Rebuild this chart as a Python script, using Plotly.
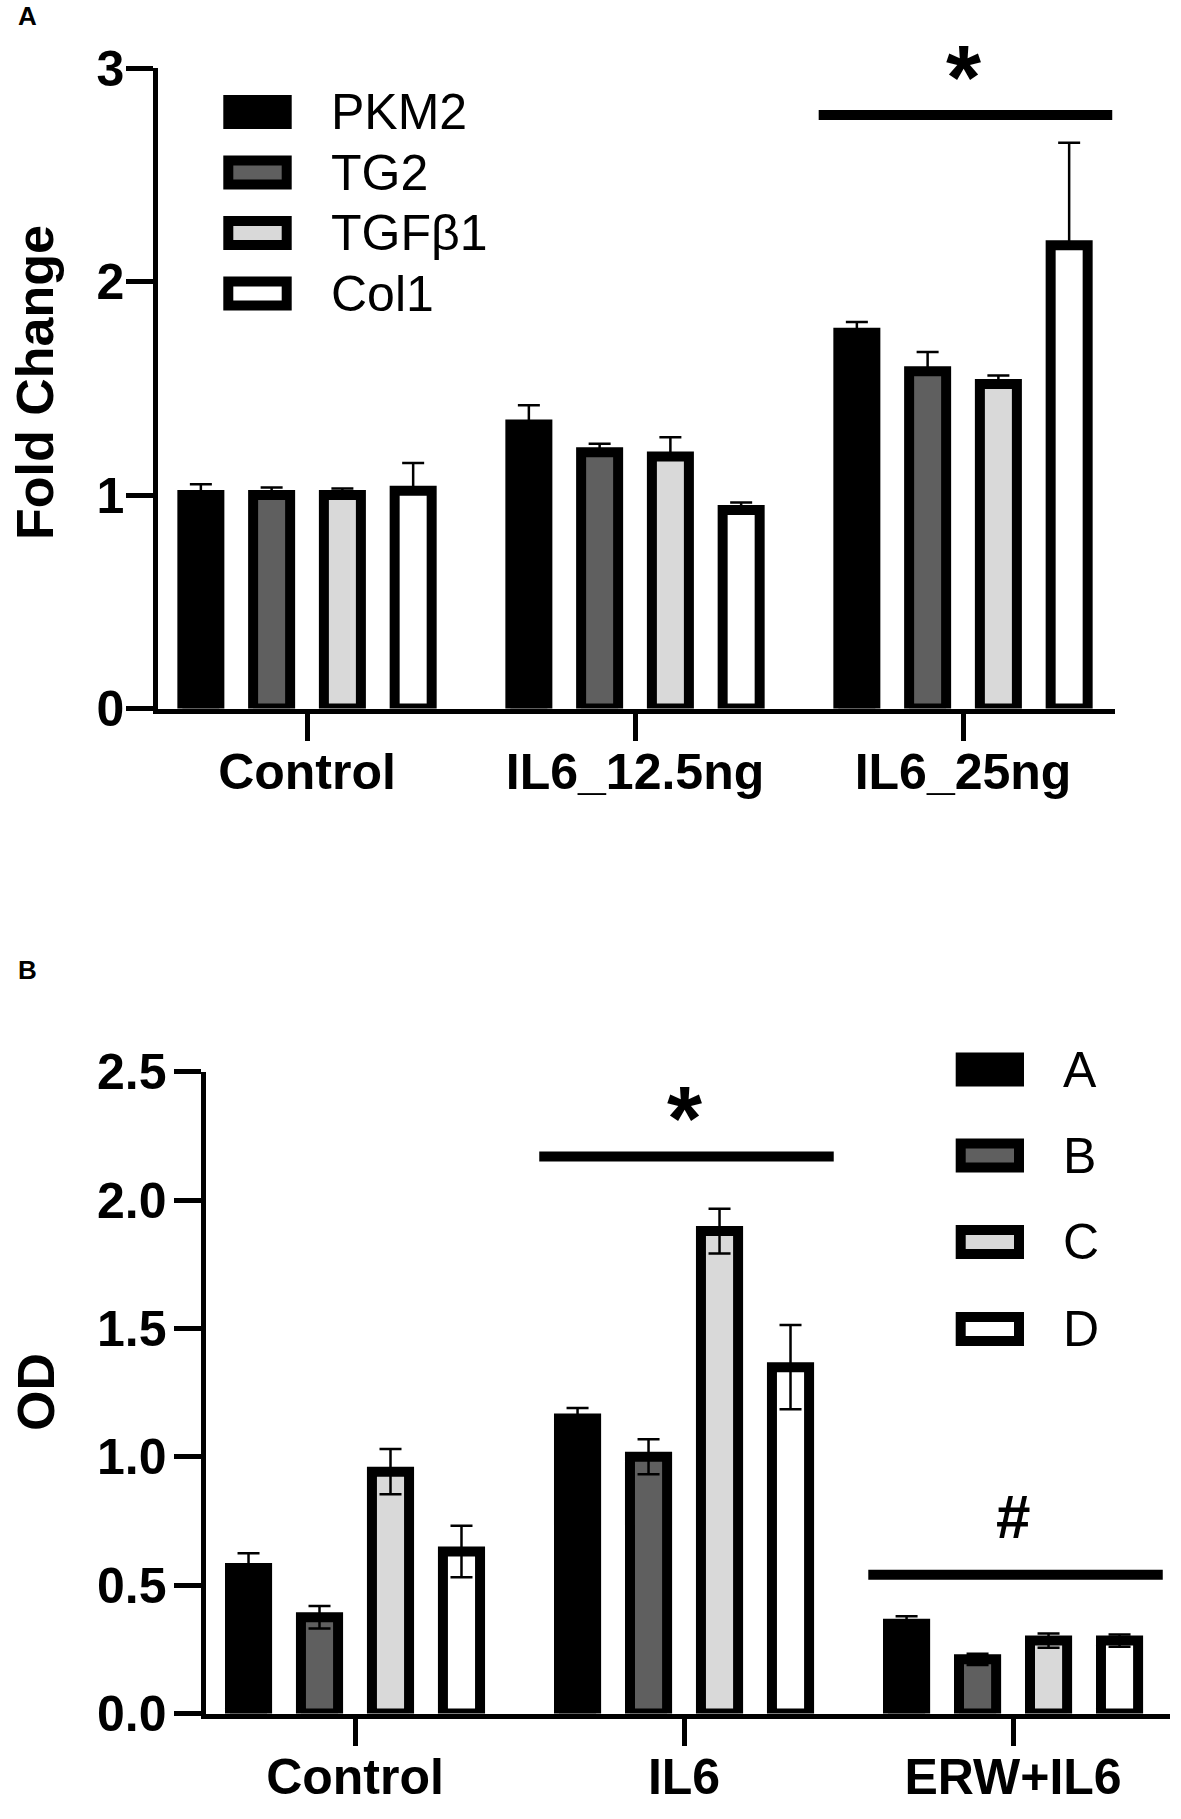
import plotly.graph_objects as go

# ---- data: panel A (fold change) ----
groups_a = ["Control", "IL6_12.5ng", "IL6_25ng"]
genes_a = ["PKM2", "TG2", "TGFβ1", "Col1"]
pkm2 = [1.00, 1.33, 1.76]
pkm2_err = [0.05, 0.09, 0.05]
tg2 = [1.00, 1.20, 1.58]
tg2_err = [0.035, 0.04, 0.09]
tgfb1 = [1.00, 1.18, 1.52]
tgfb1_err = [0.03, 0.09, 0.04]
col1 = [1.02, 0.93, 2.17]
col1_err = [0.13, 0.035, 0.48]

# ---- data: panel B (OD) ----
groups_b = ["Control", "IL6", "ERW+IL6"]
series_b = ["A", "B", "C", "D"]
od_a = [0.567, 1.149, 0.350]
od_a_err = [0.057, 0.041, 0.029]
od_b = [0.375, 1.000, 0.211]
od_b_err = [0.044, 0.068, 0.022]
od_c = [0.942, 1.879, 0.284]
od_c_err = [0.088, 0.087, 0.028]
od_d = [0.631, 1.349, 0.284]
od_d_err = [0.100, 0.164, 0.024]

# significance marks: (group, level, symbol)
sig_a = [("IL6_25ng", 2.78, "*")]
sig_b = [("IL6", 2.17, "*"), ("ERW+IL6", 0.54, "#")]

fills = ["#000000", "#5f5f5f", "#d9d9d9", "#ffffff"]

W, H = 1181, 1819
FONT = "Liberation Sans, Arial, sans-serif"


def px_x(p):
    return p / W


def px_y(p):
    return 1 - p / H


fig = go.Figure()

vals_a = [pkm2, tg2, tgfb1, col1]
errs_a = [pkm2_err, tg2_err, tgfb1_err, col1_err]
for name, v, e, c in zip(genes_a, vals_a, errs_a, fills):
    fig.add_trace(go.Bar(
        x=groups_a, y=v, name=name, xaxis="x", yaxis="y",
        marker=dict(color=c, line=dict(color="black", width=10)),
        error_y=dict(type="data", array=e, arrayminus=[0] * len(e), symmetric=False,
                     color="black", thickness=2.5, width=11),
        showlegend=False, hoverinfo="skip"))

vals_b = [od_a, od_b, od_c, od_d]
errs_b = [od_a_err, od_b_err, od_c_err, od_d_err]
for name, v, e, c in zip(series_b, vals_b, errs_b, fills):
    fig.add_trace(go.Bar(
        x=groups_b, y=v, name=name, xaxis="x2", yaxis="y2",
        marker=dict(color=c, line=dict(color="black", width=10)),
        error_y=dict(type="data", array=e, color="black", thickness=2.5, width=11),
        showlegend=False, hoverinfo="skip"))

tickfont = dict(family=FONT, size=50, color="black", weight="bold")
axis_common = dict(showline=True, linecolor="black", linewidth=5, ticks="outside",
                   tickwidth=5, tickcolor="black", ticklen=27, showgrid=False,
                   zeroline=False, tickfont=tickfont, fixedrange=True, automargin=False)

fig.update_layout(
    width=W, height=H, margin=dict(l=0, r=0, t=0, b=0, autoexpand=False),
    paper_bgcolor="white", plot_bgcolor="white",
    bargap=0.137, bargroupgap=0.477, barmode="group",
    xaxis=dict(domain=[px_x(158.2), px_x(1115)], range=[-0.4537, 2.4634],
               anchor="y", ticklabelstandoff=-12, **axis_common),
    yaxis=dict(domain=[px_y(708.5), px_y(68)], range=[0, 3], tickvals=[0, 1, 2, 3],
               anchor="x", ticklabelstandoff=-8, **axis_common),
    xaxis2=dict(domain=[px_x(205.5), px_x(1170)], range=[-0.4544, 2.477],
                anchor="y2", ticklabelstandoff=-12, **axis_common),
    yaxis2=dict(domain=[px_y(1713.5), px_y(1071.7)], range=[0, 2.5], dtick=0.5,
                tickformat=".1f", anchor="x2", ticklabelstandoff=-3, **axis_common),
)

# significance bars
for sigs, groups, xr, yr in [(sig_a, groups_a, "x", "y"), (sig_b, groups_b, "x2", "y2")]:
    for grp, level, sym in sigs:
        i = groups.index(grp)
        fig.add_shape(type="line", xref=xr, yref=yr, x0=i - 0.44, x1=i + 0.455,
                      y0=level, y1=level, line=dict(color="black", width=10))
        shift = 37 if sym == "*" else 58
        size = 90 if sym == "*" else 62
        fig.add_annotation(x=i, y=level, xref=xr, yref=yr, text=sym, showarrow=False,
                           yanchor="middle", yshift=shift,
                           font=dict(family=FONT, size=size, color="black", weight="bold"))

# legends drawn as boxes + labels
def draw_legend(names, x0, x1, centers, text_x):
    for name, c, yc in zip(names, fills, centers):
        fig.add_shape(type="rect", xref="paper", yref="paper",
                      x0=px_x(x0), x1=px_x(x1), y0=px_y(yc + 12), y1=px_y(yc - 12),
                      fillcolor=c, line=dict(color="black", width=10))
        fig.add_annotation(x=px_x(text_x), y=px_y(yc), xref="paper", yref="paper",
                           text=name, showarrow=False, xanchor="left", yanchor="middle",
                           font=dict(family=FONT, size=50, color="black"))


draw_legend(genes_a, 228.3, 286.7, [112, 172.5, 233, 293.5], 329)
draw_legend(series_b, 960.7, 1019, [1069.5, 1155.5, 1242, 1329], 1061)

# axis titles and panel letters
labels = [("Fold Change", 35, 383, 52, -90), ("OD", 36, 1392, 52, -90),
          ("A", 27, 16, 26, 0), ("B", 27, 970, 26, 0)]
for text, lx, ly, size, angle in labels:
    fig.add_annotation(x=px_x(lx), y=px_y(ly), xref="paper", yref="paper", text=text,
                       textangle=angle, showarrow=False, xanchor="center", yanchor="middle",
                       font=dict(family=FONT, size=size, color="black", weight="bold"))

fig.write_html("out.html", config={"displayModeBar": False},
               post_script="document.body.style.margin='0';")
